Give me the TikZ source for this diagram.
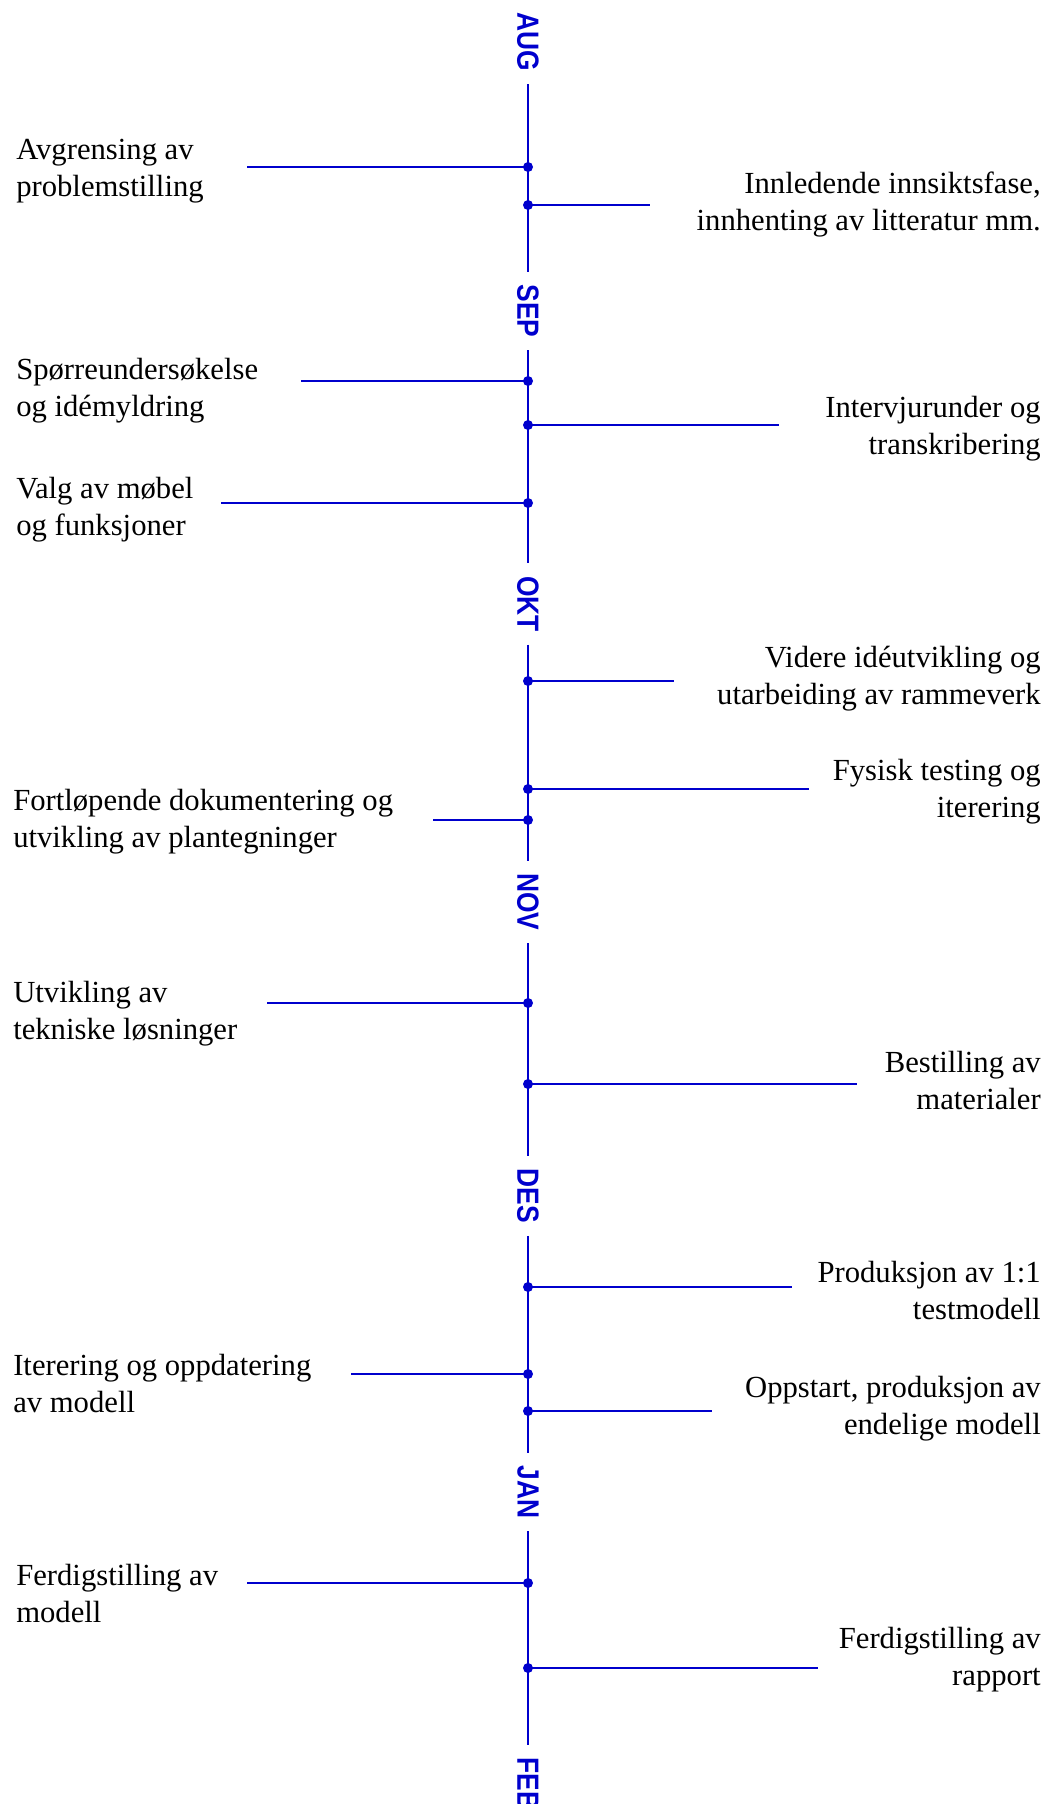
\documentclass[tikz,border=0pt]{standalone}
\usepackage{fontspec}
\setmainfont{Liberation Serif}
\newfontfamily\monthfont{Liberation Sans}
\definecolor{tlblue}{RGB}{0,0,205}

\begin{document}
\begin{tikzpicture}[x=0.75pt, y=-0.75pt,
    month/.style={rotate=-90, xscale=0.86, text=tlblue, inner xsep=11pt, inner ysep=0pt,
        font=\monthfont\bfseries\fontsize{23}{23}\selectfont},
    axis/.style={tlblue, line width=1.2pt},
    event/.style={circle, fill=tlblue, inner sep=0pt, minimum size=7.5pt},
    ltext/.style={anchor=west, align=left, inner sep=0pt, yshift=-2.6pt, font=\fontsize{23}{27.75}\selectfont},
    rtext/.style={anchor=east, align=right, inner sep=0pt, yshift=-2.6pt, font=\fontsize{23}{27.75}\selectfont}]

    \useasboundingbox (0,0) rectangle (1046,1804);

    % Draw the months
    \node[month] (aug) at (528,42) {AUG};
    \node[month] (sep) at (528,311) {SEP};
    \node[month] (okt) at (528,604) {OKT};
    \node[month] (nov) at (528,902) {NOV};
    \node[month] (des) at (528,1196) {DES};
    \node[month] (jan) at (528,1492) {JAN};
    \node[month] (feb) at (528,1784) {FEB};

    % Draw the time axis between the months
    \draw[axis] (aug) -- (sep);
    \draw[axis] (sep) -- (okt);
    \draw[axis] (okt) -- (nov);
    \draw[axis] (nov) -- (des);
    \draw[axis] (des) -- (jan);
    \draw[axis] (jan) -- (feb);

    % August
    \node[event] (d1) at (528,167) {};
    \coordinate (e1) at (247,167);
    \draw[axis] (d1.center) -- (e1);
    \node[ltext] (t1) at (16,168) {Avgrensing av\\problemstilling};

    \node[event] (d2) at (528,205) {};
    \coordinate (e2) at (650,205);
    \draw[axis] (d2.center) -- (e2);
    \node[rtext] (t2) at (1041,201) {Innledende innsiktsfase,\\innhenting av litteratur mm.};

    % September
    \node[event] (d3) at (528,381) {};
    \coordinate (e3) at (301,381);
    \draw[axis] (d3.center) -- (e3);
    \node[ltext] (t3) at (16,387) {Spørreundersøkelse\\og idémyldring};

    \node[event] (d4) at (528,425) {};
    \coordinate (e4) at (779,425);
    \draw[axis] (d4.center) -- (e4);
    \node[rtext] (t4) at (1041,425) {Intervjurunder og\\transkribering};

    \node[event] (d5) at (528,503) {};
    \coordinate (e5) at (221,503);
    \draw[axis] (d5.center) -- (e5);
    \node[ltext] (t5) at (16,506) {Valg av møbel\\og funksjoner};

    % Oktober
    \node[event] (d6) at (528,681) {};
    \coordinate (e6) at (674,681);
    \draw[axis] (d6.center) -- (e6);
    \node[rtext] (t6) at (1041,675) {Videre idéutvikling og\\utarbeiding av rammeverk};

    \node[event] (d7) at (528,789) {};
    \coordinate (e7) at (809,789);
    \draw[axis] (d7.center) -- (e7);
    \node[rtext] (t7) at (1041,788) {Fysisk testing og\\iterering};

    \node[event] (d8) at (528,820) {};
    \coordinate (e8) at (433,820);
    \draw[axis] (d8.center) -- (e8);
    \node[ltext] (t8) at (13,818) {Fortløpende dokumentering og\\utvikling av plantegninger};

    % November
    \node[event] (d9) at (528,1003) {};
    \coordinate (e9) at (267,1003);
    \draw[axis] (d9.center) -- (e9);
    \node[ltext] (t9) at (13,1010) {Utvikling av\\tekniske løsninger};

    \node[event] (d10) at (528,1084) {};
    \coordinate (e10) at (857,1084);
    \draw[axis] (d10.center) -- (e10);
    \node[rtext] (t10) at (1041,1077) {Bestilling av\\materialer};

    % Desember
    \node[event] (d11) at (528,1287) {};
    \coordinate (e11) at (792,1287);
    \draw[axis] (d11.center) -- (e11);
    \node[rtext] (t11) at (1041,1287) {Produksjon av 1:1\\testmodell};

    \node[event] (d12) at (528,1374) {};
    \coordinate (e12) at (351,1374);
    \draw[axis] (d12.center) -- (e12);
    \node[ltext] (t12) at (13,1380) {Iterering og oppdatering\\av modell};

    \node[event] (d13) at (528,1411) {};
    \coordinate (e13) at (712,1411);
    \draw[axis] (d13.center) -- (e13);
    \node[rtext] (t13) at (1041,1405) {Oppstart, produksjon av\\endelige modell};

    % Januar
    \node[event] (d14) at (528,1583) {};
    \coordinate (e14) at (247,1583);
    \draw[axis] (d14.center) -- (e14);
    \node[ltext] (t14) at (16,1590) {Ferdigstilling av\\modell};

    \node[event] (d15) at (528,1668) {};
    \coordinate (e15) at (818,1668);
    \draw[axis] (d15.center) -- (e15);
    \node[rtext] (t15) at (1041,1656) {Ferdigstilling av\\rapport};

\end{tikzpicture}
\end{document}
